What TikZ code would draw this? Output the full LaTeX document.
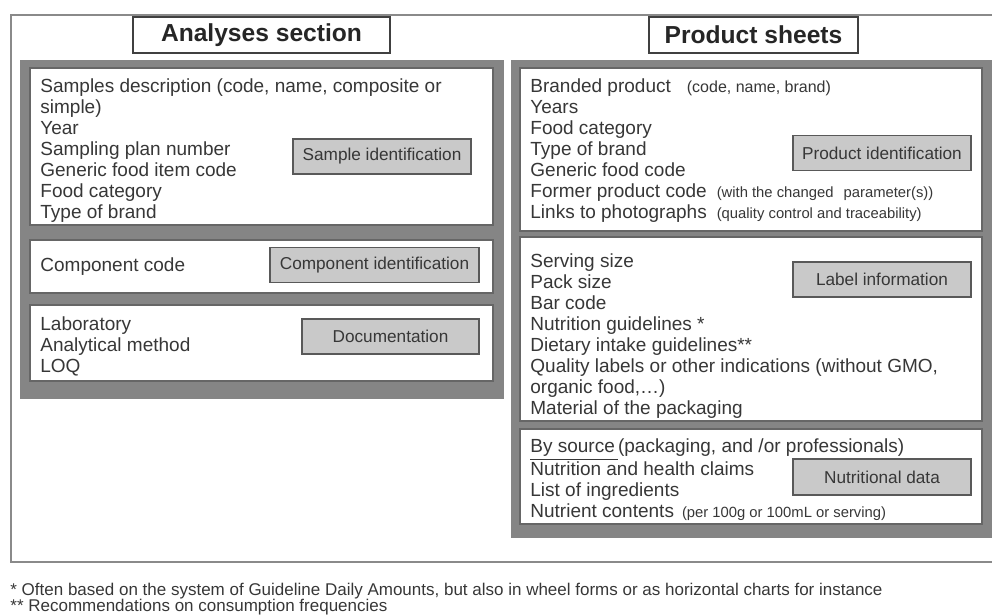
\documentclass[tikz,border=0pt]{standalone}
\usepackage{fontspec}
\setmainfont{Liberation Sans}
\usepackage{xcolor}
\definecolor{panelgray}{RGB}{133,133,133}
\definecolor{labelgray}{RGB}{201,201,201}
\definecolor{textgray}{RGB}{55,55,55}
\definecolor{framegray}{RGB}{138,138,138}
\newcommand{\smalltxt}[1]{{\fontsize{7.4}{8}\selectfont #1}}

\begin{document}
\begin{tikzpicture}[
    x=0.5pt, y=-0.5pt,
    panel/.style={fill=panelgray, draw=none},
    entrybox/.style={draw=black!60, line width=0.7pt, fill=white},
    title/.style={draw=black!75, line width=0.8pt, fill=white, inner sep=0pt,
                  minimum height=18pt, font=\bfseries\fontsize{12.3}{14}\selectfont,
                  text=black!85},
    idlab/.style={draw=black!65, line width=0.8pt, fill=labelgray, inner sep=0pt,
                  minimum width=89pt, minimum height=17.5pt,
                  font=\fontsize{8.6}{10}\selectfont, text=textgray},
    items/.style={anchor=north west, inner sep=0pt, align=left, text=textgray,
                  font=\fontsize{9.5}{10.5}\selectfont},
    note/.style={anchor=west, inner sep=0pt, text=textgray,
                 font=\fontsize{8.5}{9}\selectfont}
]
    \clip (0,0) rectangle (992,616);

    % outer frame
    \draw[framegray, line width=1pt] (11,15) rectangle (1010,562);

    % headings
    \node[title, minimum width=128.5pt] (analyses) at (261.5,35) {Analyses section};
    \node[title, minimum width=104.5pt] (sheets) at (753.5,35) {Product sheets};

    % analyses section
    \fill[panel] (20,60) rectangle (504,399);
    \draw[entrybox] (30,68) rectangle (493,225);
    \draw[entrybox] (30,240) rectangle (493,293);
    \draw[entrybox] (30,305) rectangle (493,381);

    \node[items] (sample) at (40,78) {Samples description (code, name, composite or\\
        simple)\\Year\\Sampling plan number\\Generic food item code\\Food category\\Type of brand};
    \node[items, anchor=west] (component) at (40,267) {Component code};
    \node[items] (lab) at (40,316) {Laboratory\\Analytical method\\LOQ};

    \node[idlab] (sampleid) at (382,156.5) {Sample identification};
    \node[idlab, minimum width=104.5pt] (componentid) at (374.5,265) {Component identification};
    \node[idlab, minimum width=88.5pt] (doc) at (390.5,336.5) {Documentation};

    % product sheets
    \fill[panel] (511,60) rectangle (1010,538);
    \draw[entrybox] (520,68) rectangle (982,231);
    \draw[entrybox] (520,237) rectangle (982,421);
    \draw[entrybox] (520,429) rectangle (982,524);

    \node[items] (product) at (530,78) {Branded product\hspace{8pt}{\fontsize{8}{8}\selectfont (code, name, brand)}\\
        Years\\Food category\\Type of brand\\Generic food code\\
        Former product code\hspace{5pt}\smalltxt{(with the changed\hspace{3pt} parameter(s))}\\
        Links to photographs\hspace{5pt}\smalltxt{(quality control and traceability)}};
    \node[items] (labelinfo) at (530,253) {Serving size\\Pack size\\Bar code\\
        Nutrition guidelines *\\Dietary intake guidelines**\\
        Quality labels or other indications (without GMO,\\organic food,\dots)\\
        Material of the packaging};
    \node[items] (nutri) at (530,438) {\underline{By source\,}(packaging, and /or professionals)\\
        Nutrition and health claims\\List of ingredients\\
        Nutrient contents\hspace{4pt}\smalltxt{(per 100g or 100mL or serving)}};

    \node[idlab] (productid) at (882,153) {Product identification};
    \node[idlab] (labelid) at (882,279.5) {Label information};
    \node[idlab, minimum height=18pt] (nutriid) at (882,477) {Nutritional data};

    % footnotes
    \node[note] (fn1) at (10,591) {* Often based on the system of Guideline Daily Amounts, but also in wheel forms or as horizontal charts for instance};
    \node[note] (fn2) at (10,607) {** Recommendations on consumption frequencies};
\end{tikzpicture}
\end{document}
